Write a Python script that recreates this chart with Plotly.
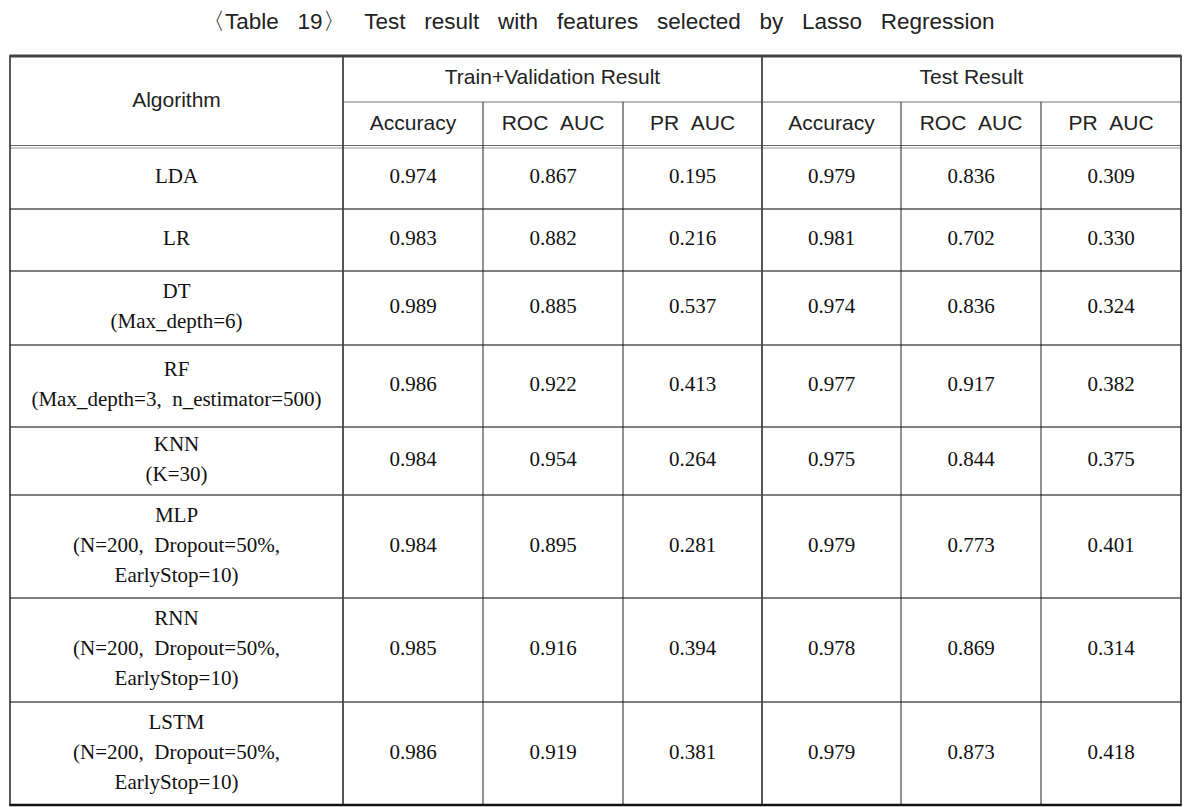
import plotly.graph_objects as go

# ---------------- data ----------------
title_text = "〈Table 19〉 Test result with features selected by Lasso Regression"
group_headers = ["Train+Validation Result", "Test Result"]
metric_headers = ["Accuracy", "ROC  AUC", "PR  AUC", "Accuracy", "ROC  AUC", "PR  AUC"]
algo_header = "Algorithm"
algorithms = [
    "LDA",
    "LR",
    "DT\n(Max_depth=6)",
    "RF\n(Max_depth=3,  n_estimator=500)",
    "KNN\n(K=30)",
    "MLP\n(N=200,  Dropout=50%,\nEarlyStop=10)",
    "RNN\n(N=200,  Dropout=50%,\nEarlyStop=10)",
    "LSTM\n(N=200,  Dropout=50%,\nEarlyStop=10)",
]
train_acc = [0.974, 0.983, 0.989, 0.986, 0.984, 0.984, 0.985, 0.986]
train_roc = [0.867, 0.882, 0.885, 0.922, 0.954, 0.895, 0.916, 0.919]
train_pr = [0.195, 0.216, 0.537, 0.413, 0.264, 0.281, 0.394, 0.381]
test_acc = [0.979, 0.981, 0.974, 0.977, 0.975, 0.979, 0.978, 0.979]
test_roc = [0.836, 0.702, 0.836, 0.917, 0.844, 0.773, 0.869, 0.873]
test_pr = [0.309, 0.330, 0.324, 0.382, 0.375, 0.401, 0.314, 0.418]

# ---------------- layout geometry ----------------
W, H = 1201, 807
PAGE_OFFSET = 8  # default page body margin
col_edges = [10, 343, 483, 623, 762, 901, 1041, 1181]
head_edges = [56, 102, 147]
row_heights = [62, 62, 74, 82, 68, 103, 104, 103]
row_edges = [head_edges[-1]]
for h in row_heights:
    row_edges.append(row_edges[-1] + h)
LINE_GAP = 30

def fix_spaces(s):
    return s.replace("  ", " \u00a0")

SANS = "Liberation Sans, Arial, sans-serif"
SERIF = "Liberation Serif, Times New Roman, serif"

fig = go.Figure()

# algorithm column text (each line placed separately)
ax, ay, at = [], [], []
for i, name in enumerate(algorithms):
    lines = name.split("\n")
    cy = (row_edges[i] + row_edges[i + 1]) / 2
    cx = (col_edges[0] + col_edges[1]) / 2
    n = len(lines)
    for k, ln in enumerate(lines):
        ax.append(cx)
        ay.append(cy + (k - (n - 1) / 2) * LINE_GAP)
        at.append(fix_spaces(ln))
fig.add_trace(go.Scatter(x=ax, y=ay, text=at, mode="text",
                         textfont=dict(family=SERIF, size=21, color="#111"),
                         hoverinfo="skip", showlegend=False))

# values
series = [train_acc, train_roc, train_pr, test_acc, test_roc, test_pr]
vx, vy, vt = [], [], []
for j, vals in enumerate(series):
    cx = (col_edges[j + 1] + col_edges[j + 2]) / 2
    for i, v in enumerate(vals):
        vx.append(cx)
        vy.append((row_edges[i] + row_edges[i + 1]) / 2)
        vt.append(f"{v:.3f}")
fig.add_trace(go.Scatter(x=vx, y=vy, text=vt, mode="text",
                         textfont=dict(family=SERIF, size=21, color="#111"),
                         hoverinfo="skip", showlegend=False))

# headers
hx, hy, ht = [], [], []
hx.append((col_edges[0] + col_edges[1]) / 2)
hy.append((head_edges[0] + head_edges[2]) / 2)
ht.append(algo_header)
for g, gname in enumerate(group_headers):
    hx.append((col_edges[1 + 3 * g] + col_edges[4 + 3 * g]) / 2)
    hy.append((head_edges[0] + head_edges[1]) / 2)
    ht.append(fix_spaces(gname))
for j, m in enumerate(metric_headers):
    hx.append((col_edges[j + 1] + col_edges[j + 2]) / 2)
    hy.append((head_edges[1] + head_edges[2]) / 2)
    ht.append(fix_spaces(m))
fig.add_trace(go.Scatter(x=hx, y=hy, text=ht, mode="text",
                         textfont=dict(family=SANS, size=21, color="#222"),
                         hoverinfo="skip", showlegend=False))

# ---------------- lines ----------------
shapes = []
def hline(y, x0, x1, color, width):
    shapes.append(dict(type="line", xref="x", yref="y", x0=x0, x1=x1, y0=y, y1=y,
                       line=dict(color=color, width=width)))
def vline(x, y0, y1, color, width):
    shapes.append(dict(type="line", xref="x", yref="y", x0=x, x1=x, y0=y0, y1=y1,
                       line=dict(color=color, width=width)))

L, R = col_edges[0], col_edges[-1]
top, bottom = head_edges[0], row_edges[-1]
# header inner line
hline(head_edges[1], col_edges[1], R, "#777", 1.2)
# header bottom double line
hline(head_edges[2] - 1.5, L, R, "#666", 1)
hline(head_edges[2] + 1, L, R, "#999", 1.2)
# row lines
for y in row_edges[1:-1]:
    hline(y, L, R, "#555", 1.6)
# verticals
for k, x in enumerate(col_edges[1:-1]):
    if k in (0, 3):
        vline(x, top, bottom, "#444", 1.8)
    else:
        vline(x, head_edges[1], bottom, "#222", 1)
vline(L, top, bottom, "#222", 1.5)
vline(R, top, bottom, "#222", 1.5)
# top and bottom borders
hline(top, L - 0.7, R + 0.7, "#444", 3)
hline(bottom, L - 0.7, R + 0.7, "#111", 2.5)

title_shown = title_text.replace(" ", " \u00a0\u00a0")

fig.update_layout(
    shapes=shapes,
    width=W, height=H,
    margin=dict(l=0, r=0, t=0, b=0),
    paper_bgcolor="white", plot_bgcolor="white",
    xaxis=dict(range=[PAGE_OFFSET, W + PAGE_OFFSET], visible=False, fixedrange=True),
    yaxis=dict(range=[H + PAGE_OFFSET, PAGE_OFFSET], visible=False, fixedrange=True),
    annotations=[dict(text=title_shown, x=598, y=21, xref="x", yref="y",
                      showarrow=False, xanchor="center", yanchor="middle",
                      font=dict(family=SANS, size=22.5, color="#222"))],
)

fig.write_html("out.html")
